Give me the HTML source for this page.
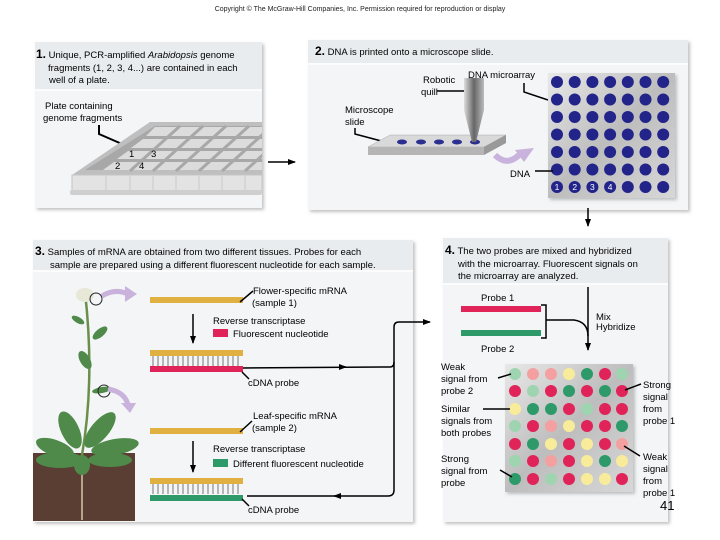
<!DOCTYPE html>
<html><head><meta charset="utf-8"><style>
body{margin:0;background:#fff;}
svg{display:block;font-family:"Liberation Sans",sans-serif;}
</style></head><body>
<svg width="720" height="540" viewBox="0 0 720 540" xmlns="http://www.w3.org/2000/svg">
<defs>
<filter id="sh" x="-5%" y="-5%" width="110%" height="110%"><feDropShadow dx="2" dy="2" stdDeviation="1.5" flood-color="#999" flood-opacity="0.6"/></filter>
<linearGradient id="ma" x1="0" y1="0" x2="1" y2="1"><stop offset="0" stop-color="#e8e8e8"/><stop offset="0.5" stop-color="#bdbdbd"/><stop offset="1" stop-color="#d8d8d8"/></linearGradient>
<linearGradient id="quill" x1="0" y1="0" x2="1" y2="0"><stop offset="0" stop-color="#ddd"/><stop offset="0.5" stop-color="#666"/><stop offset="1" stop-color="#bbb"/></linearGradient>
<marker id="ah" markerWidth="8" markerHeight="8" refX="7" refY="4" orient="auto" markerUnits="userSpaceOnUse"><path d="M0,1 L8,4 L0,7 z" fill="#000"/></marker>
<clipPath id="p1"><rect x="35" y="90" width="227" height="118"/></clipPath>
</defs>
<text x="360" y="11" font-size="7" text-anchor="middle" fill="#222">Copyright © The McGraw-Hill Companies, Inc. Permission required for reproduction or display</text>

<!-- Panel 1 -->
<rect x="35" y="42" width="227" height="166" fill="#f3f5f7" filter="url(#sh)"/>
<rect x="35" y="42" width="227" height="48" fill="#e9ecef"/>
<line x1="35" y1="90" x2="262" y2="90" stroke="#fff" stroke-width="1.5"/>
<text x="36" y="58" font-size="9.5"><tspan font-weight="bold" font-size="12">1.</tspan> Unique, PCR-amplified <tspan font-style="italic">Arabidopsis</tspan> genome</text>
<text x="48" y="71" font-size="9.5">fragments (1, 2, 3, 4...) are contained in each</text>
<text x="49" y="83" font-size="9.5">well of a plate.</text>
<text x="45" y="109" font-size="9.5">Plate containing</text>
<text x="43" y="121" font-size="9.5">genome fragments</text>
<polyline points="99,125 99,134 122,144" fill="none" stroke="#000" stroke-width="2"/>
<g clip-path="url(#p1)">
<polygon points="150,122 262,122 262,175 72,175" fill="#bfbfbf"/>
<polygon points="155,126 262,126 262,170 85,170" fill="#a8a8a8"/>
<g fill="#dcdcdc">
<polygon points="155,127 262,127 262,136 146,136"/>
<polygon points="143,139 262,139 262,148 131,148"/>
<polygon points="128,151 262,151 262,159 117,159"/>
<polygon points="114,162 262,162 262,170 103,170"/>
</g>
<g stroke="#a8a8a8" stroke-width="3">
<line x1="180" y1="126" x2="130" y2="171"/><line x1="203" y1="126" x2="153" y2="171"/><line x1="226" y1="126" x2="176" y2="171"/><line x1="249" y1="126" x2="199" y2="171"/><line x1="272" y1="126" x2="222" y2="171"/><line x1="295" y1="126" x2="245" y2="171"/>
</g>
<rect x="72" y="175" width="190" height="16" fill="#e3e3e3" stroke="#c4c4c4"/>
<g stroke="#c8c8c8"><line x1="106" y1="176" x2="106" y2="190"/><line x1="130" y1="176" x2="130" y2="190"/><line x1="153" y1="176" x2="153" y2="190"/><line x1="176" y1="176" x2="176" y2="190"/><line x1="199" y1="176" x2="199" y2="190"/><line x1="222" y1="176" x2="222" y2="190"/><line x1="245" y1="176" x2="245" y2="190"/></g>
<rect x="70" y="190" width="192" height="5" rx="2" fill="#cfcfcf"/>
</g>
<text x="129" y="157" font-size="9.5">1</text><text x="151" y="157" font-size="9.5">3</text>
<text x="115" y="169" font-size="9.5">2</text><text x="139" y="169" font-size="9.5">4</text>
<line x1="268" y1="162" x2="295" y2="162" stroke="#000" stroke-width="1.5" marker-end="url(#ah)"/>

<!-- Panel 2 -->
<rect x="308" y="40" width="380" height="170" fill="#f3f5f7" filter="url(#sh)"/>
<rect x="308" y="40" width="380" height="23" fill="#e9ecef"/>
<line x1="308" y1="64" x2="688" y2="64" stroke="#fff" stroke-width="1.5"/>
<text x="315" y="55" font-size="9.5"><tspan font-weight="bold" font-size="12">2.</tspan> DNA is printed onto a microscope slide.</text>
<text x="423" y="83" font-size="9.5">Robotic</text>
<text x="421" y="95" font-size="9.5">quill</text>
<line x1="437" y1="91" x2="466" y2="91" stroke="#000" stroke-width="1.5"/>
<text x="468" y="78" font-size="9.5">DNA microarray</text>
<polyline points="524,83 524,92 548,100" fill="none" stroke="#000" stroke-width="1.5"/>
<text x="345" y="113" font-size="9.5">Microscope</text>
<text x="345" y="125" font-size="9.5">slide</text>
<polyline points="355,128 355,134 385,142" fill="none" stroke="#000" stroke-width="1.5"/>
<polygon points="368,147 390,135 506,135 484,147" fill="#d9d9d9" stroke="#aaa" stroke-width="0.5"/>
<polygon points="368,147 484,147 484,155 368,155" fill="#b5b5b5"/>
<polygon points="484,147 506,135 506,143 484,155" fill="#999"/>
<g fill="#2b2f8f"><ellipse cx="402" cy="142" rx="5" ry="2.5"/><ellipse cx="421" cy="142" rx="5" ry="2.5"/><ellipse cx="439" cy="142" rx="5" ry="2.5"/><ellipse cx="457" cy="142" rx="5" ry="2.5"/><ellipse cx="475" cy="142" rx="5" ry="2.5"/></g>
<polygon points="464,78 484,78 484,110 476,142 472,142 464,110" fill="url(#quill)"/>
<path d="M495,155 Q508,168 522,152" fill="none" stroke="#c9b2dc" stroke-width="6"/>
<polygon points="515,150 534,148 524,162" fill="#c9b2dc"/>
<rect x="548" y="73" width="127" height="125" fill="url(#ma)" filter="url(#sh)"/>
<g fill="#22248a">
<g id="mrow"><circle cx="557" cy="82" r="6"/><circle cx="574.7" cy="82" r="6"/><circle cx="592.4" cy="82" r="6"/><circle cx="610.1" cy="82" r="6"/><circle cx="627.8" cy="82" r="6"/><circle cx="645.5" cy="82" r="6"/><circle cx="663.2" cy="82" r="6"/></g>
<use href="#mrow" transform="translate(0,17.5)"/>
<use href="#mrow" transform="translate(0,35)"/>
<use href="#mrow" transform="translate(0,52.5)"/>
<use href="#mrow" transform="translate(0,70)"/>
<use href="#mrow" transform="translate(0,87.5)"/>
<use href="#mrow" transform="translate(0,105)"/>
</g>
<g fill="#fff" font-size="8.5" text-anchor="middle"><text x="557" y="190">1</text><text x="574.7" y="190">2</text><text x="592.4" y="190">3</text><text x="610.1" y="190">4</text></g>
<text x="510" y="177" font-size="9.5">DNA</text>
<line x1="535" y1="171" x2="553" y2="171" stroke="#000" stroke-width="1.5"/>
<line x1="588" y1="208" x2="588" y2="226" stroke="#000" stroke-width="1.5" marker-end="url(#ah)"/>

<!-- Panel 3 -->
<rect x="33" y="240" width="380" height="282" fill="#f3f5f7" filter="url(#sh)"/>
<rect x="33" y="240" width="380" height="30" fill="#e9ecef"/>
<line x1="33" y1="271" x2="413" y2="271" stroke="#fff" stroke-width="1.5"/>
<text x="35" y="255" font-size="9.5"><tspan font-weight="bold" font-size="12">3.</tspan> Samples of mRNA are obtained from two different tissues. Probes for each</text>
<text x="50" y="268" font-size="9.5">sample are prepared using a different fluorescent nucleotide for each sample.</text>
<!-- plant -->
<rect x="33" y="453" width="102" height="68" fill="#5a3d33"/>
<path d="M85,292 Q95,380 82,455" fill="none" stroke="#6b8f4a" stroke-width="2.5"/>
<path d="M82,455 L82,520" stroke="#d8c7a8" stroke-width="1.5"/>
<g fill="#4f8a4a">
<ellipse cx="70" cy="430" rx="9" ry="20" transform="rotate(-25 70 430)"/>
<ellipse cx="100" cy="430" rx="9" ry="22" transform="rotate(40 100 430)"/>
<ellipse cx="55" cy="448" rx="20" ry="8" transform="rotate(20 55 448)"/>
<ellipse cx="115" cy="447" rx="24" ry="8" transform="rotate(-10 115 447)"/>
<ellipse cx="60" cy="460" rx="24" ry="8"/>
<ellipse cx="110" cy="460" rx="22" ry="7"/>
<ellipse cx="82" cy="465" rx="8" ry="10"/>
<ellipse cx="85" cy="360" rx="5" ry="10" transform="rotate(-30 85 360)"/>
<ellipse cx="100" cy="333" rx="4" ry="9" transform="rotate(50 100 333)"/>
<ellipse cx="78" cy="320" rx="3" ry="7" transform="rotate(-60 78 320)"/>
<ellipse cx="102" cy="390" rx="3" ry="10" transform="rotate(80 102 390)"/>
</g>
<ellipse cx="85" cy="295" rx="9" ry="7" fill="#e8e8d8"/>
<circle cx="96" cy="299" r="6" fill="none" stroke="#222" stroke-width="1"/>
<circle cx="104" cy="391" r="6" fill="none" stroke="#222" stroke-width="1"/>
<path d="M102,296 Q115,288 128,294" fill="none" stroke="#c9b2dc" stroke-width="5"/>
<polygon points="125,286 137,294 125,302" fill="#c9b2dc"/>
<path d="M108,389 Q125,392 128,405" fill="none" stroke="#c9b2dc" stroke-width="5"/>
<polygon points="121,403 136,403 130,413" fill="#c9b2dc"/>
<!-- strands -->
<rect x="150" y="297" width="93" height="6" fill="#e0b040"/>
<text x="253" y="294" font-size="9.5">Flower-specific mRNA</text>
<text x="252" y="306" font-size="9.5">(sample 1)</text>
<line x1="240" y1="302" x2="253" y2="291" stroke="#000" stroke-width="1.5"/>
<line x1="193" y1="314" x2="193" y2="343" stroke="#000" stroke-width="1.5" marker-end="url(#ah)"/>
<text x="213" y="324" font-size="9.5">Reverse transcriptase</text>
<rect x="213" y="329" width="15" height="8" fill="#e0245a"/>
<text x="233" y="337" font-size="9.5">Fluorescent nucleotide</text>
<rect x="150" y="350" width="93" height="6" fill="#e0b040"/>
<g stroke="#555" stroke-width="0.8" id="rungs">
<line x1="153" y1="356" x2="153" y2="366"/><line x1="158" y1="356" x2="158" y2="366"/><line x1="163" y1="356" x2="163" y2="366"/><line x1="168" y1="356" x2="168" y2="366"/><line x1="173" y1="356" x2="173" y2="366"/><line x1="178" y1="356" x2="178" y2="366"/><line x1="183" y1="356" x2="183" y2="366"/><line x1="188" y1="356" x2="188" y2="366"/><line x1="193" y1="356" x2="193" y2="366"/><line x1="198" y1="356" x2="198" y2="366"/><line x1="203" y1="356" x2="203" y2="366"/><line x1="208" y1="356" x2="208" y2="366"/><line x1="213" y1="356" x2="213" y2="366"/><line x1="218" y1="356" x2="218" y2="366"/><line x1="223" y1="356" x2="223" y2="366"/><line x1="228" y1="356" x2="228" y2="366"/><line x1="233" y1="356" x2="233" y2="366"/><line x1="238" y1="356" x2="238" y2="366"/>
</g>
<rect x="150" y="366" width="93" height="6" fill="#e0245a"/>
<text x="248" y="386" font-size="9.5">cDNA probe</text>
<line x1="242" y1="372" x2="249" y2="379" stroke="#000" stroke-width="1.5"/>
<rect x="150" y="428" width="93" height="6" fill="#e0b040"/>
<text x="253" y="419" font-size="9.5">Leaf-specific mRNA</text>
<text x="252" y="431" font-size="9.5">(sample 2)</text>
<line x1="240" y1="432" x2="252" y2="421" stroke="#000" stroke-width="1.5"/>
<line x1="193" y1="441" x2="193" y2="472" stroke="#000" stroke-width="1.5" marker-end="url(#ah)"/>
<text x="213" y="452" font-size="9.5">Reverse transcriptase</text>
<rect x="213" y="459" width="15" height="8" fill="#2e9a6a"/>
<text x="233" y="467" font-size="9.5">Different fluorescent nucleotide</text>
<rect x="150" y="478" width="93" height="6" fill="#e0b040"/>
<use href="#rungs" transform="translate(0,128)"/>
<rect x="150" y="495" width="93" height="6" fill="#2e9a6a"/>
<text x="248" y="513" font-size="9.5">cDNA probe</text>
<line x1="242" y1="499" x2="249" y2="506" stroke="#000" stroke-width="1.5"/>
<!-- connectors -->
<path d="M243,368 L390,367 Q394,367 394,362 L394,327 Q394,322 399,322 L430,322" fill="none" stroke="#000" stroke-width="1.5" marker-end="url(#ah)"/>
<path d="M247,496 L388,496 Q394,496 394,490 L394,362" fill="none" stroke="#000" stroke-width="1.5"/>
<line x1="340" y1="367" x2="346" y2="367" stroke="#000" stroke-width="1.5" marker-end="url(#ah)"/>
<line x1="340" y1="496" x2="334" y2="496" stroke="#000" stroke-width="1.5" marker-end="url(#ah)"/>

<!-- Panel 4 -->
<rect x="443" y="238" width="225" height="284" fill="#f3f5f7" filter="url(#sh)"/>
<rect x="443" y="238" width="225" height="45" fill="#e9ecef"/>
<line x1="443" y1="284" x2="668" y2="284" stroke="#fff" stroke-width="1.5"/>
<text x="445" y="254" font-size="9.5"><tspan font-weight="bold" font-size="12">4.</tspan> The two probes are mixed and hybridized</text>
<text x="458" y="267" font-size="9.5">with the microarray. Fluorescent signals on</text>
<text x="458" y="279" font-size="9.5">the microarray are analyzed.</text>
<text x="481" y="301" font-size="9.5">Probe 1</text>
<rect x="461" y="306" width="80" height="6" fill="#e0245a"/>
<rect x="461" y="330" width="80" height="6" fill="#2e9a6a"/>
<polyline points="541,305 546,305 546,338 541,338" fill="none" stroke="#000" stroke-width="1.5"/>
<path d="M546,320 L574,320 Q588,322 588,336" fill="none" stroke="#000" stroke-width="1.5"/>
<line x1="588" y1="287" x2="588" y2="350" stroke="#000" stroke-width="1.5" marker-end="url(#ah)"/>
<text x="596" y="320" font-size="9.5">Mix</text>
<text x="596" y="330" font-size="9.5">Hybridize</text>
<text x="481" y="352" font-size="9.5">Probe 2</text>
<rect x="505" y="364" width="128" height="128" fill="url(#ma)" filter="url(#sh)"/>
<g>
<g><circle cx="515" cy="374" r="6" fill="#9fd4b0"/><circle cx="533" cy="374" r="6" fill="#f4a0a0"/><circle cx="551" cy="374" r="6" fill="#f4a0a0"/><circle cx="569" cy="374" r="6" fill="#f8ec9a"/><circle cx="587" cy="374" r="6" fill="#2e9a6a"/><circle cx="605" cy="374" r="6" fill="#e0245a"/><circle cx="622" cy="374" r="6" fill="#9fd4b0"/></g>
<g><circle cx="515" cy="391" r="6" fill="#e0245a"/><circle cx="533" cy="391" r="6" fill="#9fd4b0"/><circle cx="551" cy="391" r="6" fill="#e0245a"/><circle cx="569" cy="391" r="6" fill="#2e9a6a"/><circle cx="587" cy="391" r="6" fill="#e0245a"/><circle cx="605" cy="391" r="6" fill="#2e9a6a"/><circle cx="622" cy="391" r="6" fill="#e0245a"/></g>
<g><circle cx="515" cy="409" r="6" fill="#f8ec9a"/><circle cx="533" cy="409" r="6" fill="#2e9a6a"/><circle cx="551" cy="409" r="6" fill="#2e9a6a"/><circle cx="569" cy="409" r="6" fill="#e0245a"/><circle cx="587" cy="409" r="6" fill="#9fd4b0"/><circle cx="605" cy="409" r="6" fill="#e0245a"/><circle cx="622" cy="409" r="6" fill="#e0245a"/></g>
<g><circle cx="515" cy="426" r="6" fill="#9fd4b0"/><circle cx="533" cy="426" r="6" fill="#e0245a"/><circle cx="551" cy="426" r="6" fill="#f4a0a0"/><circle cx="569" cy="426" r="6" fill="#f8ec9a"/><circle cx="587" cy="426" r="6" fill="#e0245a"/><circle cx="605" cy="426" r="6" fill="#e0245a"/><circle cx="622" cy="426" r="6" fill="#2e9a6a"/></g>
<g><circle cx="515" cy="444" r="6" fill="#e0245a"/><circle cx="533" cy="444" r="6" fill="#2e9a6a"/><circle cx="551" cy="444" r="6" fill="#f8ec9a"/><circle cx="569" cy="444" r="6" fill="#e0245a"/><circle cx="587" cy="444" r="6" fill="#f8ec9a"/><circle cx="605" cy="444" r="6" fill="#e0245a"/><circle cx="622" cy="444" r="6" fill="#f4a0a0"/></g>
<g><circle cx="515" cy="461" r="6" fill="#9fd4b0"/><circle cx="533" cy="461" r="6" fill="#e0245a"/><circle cx="551" cy="461" r="6" fill="#f4a0a0"/><circle cx="569" cy="461" r="6" fill="#e0245a"/><circle cx="587" cy="461" r="6" fill="#f8ec9a"/><circle cx="605" cy="461" r="6" fill="#2e9a6a"/><circle cx="622" cy="461" r="6" fill="#f8ec9a"/></g>
<g><circle cx="515" cy="479" r="6" fill="#2e9a6a"/><circle cx="533" cy="479" r="6" fill="#e0245a"/><circle cx="551" cy="479" r="6" fill="#9fd4b0"/><circle cx="569" cy="479" r="6" fill="#e0245a"/><circle cx="587" cy="479" r="6" fill="#f8ec9a"/><circle cx="605" cy="479" r="6" fill="#f8ec9a"/><circle cx="622" cy="479" r="6" fill="#e0245a"/></g>
</g>
<g font-size="9.5">
<text x="441" y="370">Weak</text><text x="441" y="382">signal from</text><text x="441" y="394">probe 2</text>
<text x="441" y="412">Similar</text><text x="441" y="424">signals from</text><text x="441" y="436">both probes</text>
<text x="441" y="462">Strong</text><text x="441" y="474">signal from</text><text x="441" y="486">probe</text>
<text x="643" y="388">Strong</text><text x="643" y="400">signal</text><text x="643" y="412">from</text><text x="643" y="424">probe 1</text>
<text x="643" y="460">Weak</text><text x="643" y="472">signal</text><text x="643" y="484">from</text><text x="643" y="496">probe 1</text>
</g>
<text x="660" y="510" font-size="13">41</text>
<g stroke="#000" stroke-width="1.5">
<line x1="498" y1="378" x2="511" y2="374"/>
<line x1="483" y1="409" x2="510" y2="409"/>
<line x1="500" y1="470" x2="512" y2="477"/>
<line x1="641" y1="384" x2="625" y2="390"/>
<line x1="640" y1="456" x2="624" y2="446"/>
</g>
</svg>
</body></html>
